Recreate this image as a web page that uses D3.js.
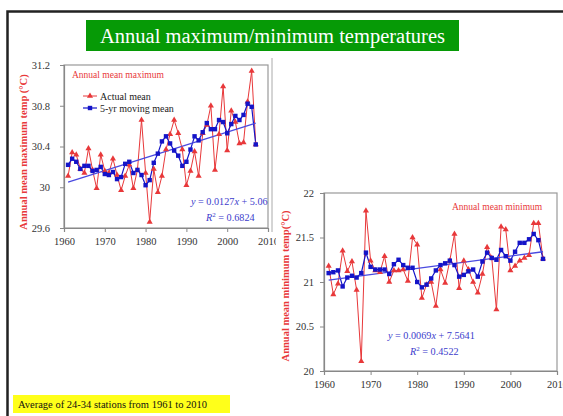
<!DOCTYPE html>
<html>
<head>
<meta charset="utf-8">
<script src="https://cdn.jsdelivr.net/npm/d3@7"></script>
<style>
  body { margin: 0; background: #fff; }
  svg text { font-family: "Liberation Serif", "DejaVu Serif", serif; }
</style>
</head>
<body>
<svg id="chart" width="563" height="416"></svg>
<script>
// years 1961-2007
var years = d3.range(1961, 2008);

// annual mean maximum (red) and 5-yr moving mean (blue)
var maxActual = [30.11, 30.34, 30.32, 30.18, 30.14, 30.38, 30.17, 29.99, 30.32, 30.16,
                 30.14, 30.28, 30.12, 29.97, 30.11, 30.22, 29.99, 30.17, 30.66, 30.14,
                 29.66, 30.18, 29.95, 30.11, 30.37, 30.52, 30.66, 30.53, 30.37, 30.02,
                 30.16, 30.35, 30.11, 30.53, 30.61, 30.80, 30.17, 30.52, 30.99, 30.36,
                 30.75, 30.64, 30.43, 30.44, 30.84, 31.14, 30.42];
var maxMoving = [30.22, 30.28, 30.25, 30.18, 30.21, 30.21, 30.16, 30.17, 30.20, 30.13,
                 30.12, 30.15, 30.08, 30.10, 30.23, 30.25, 30.14, 30.17, 30.12, 30.02,
                 30.07, 30.24, 30.33, 30.45, 30.50, 30.43, 30.36, 30.31, 30.21, 30.25,
                 30.37, 30.50, 30.46, 30.54, 30.63, 30.57, 30.57, 30.66, 30.64, 30.53,
                 30.62, 30.70, 30.66, 30.71, 30.82, 30.79, 30.42];
var maxTrend = [[1961, 30.05], [2007, 30.63]];

// annual mean minimum (red) and 5-yr moving mean (blue)
var minActual = [21.18, 20.86, 20.98, 21.35, 21.12, 21.23, 20.91, 20.11, 21.80, 21.24,
                 21.13, 21.11, 21.29, 21.00, 21.13, 21.13, 21.14, 21.01, 21.50, 21.42,
                 20.82, 20.97, 21.00, 20.73, 21.14, 20.99, 21.24, 21.54, 20.93, 21.24,
                 21.14, 21.00, 20.88, 21.09, 21.39, 21.27, 20.69, 21.62, 21.59, 21.13,
                 21.18, 21.24, 21.27, 21.30, 21.66, 21.66, 21.26];
var minMoving = [21.10, 21.11, 21.13, 20.95, 21.05, 21.07, 21.05, 21.10, 21.33, 21.17,
                 21.14, 21.14, 21.14, 21.09, 21.20, 21.25, 21.19, 21.16, 21.16, 21.00,
                 20.94, 20.97, 21.04, 21.13, 21.19, 21.21, 21.24, 21.19, 21.06, 21.08,
                 21.12, 21.14, 21.06, 21.23, 21.33, 21.27, 21.25, 21.36, 21.29, 21.24,
                 21.34, 21.44, 21.44, 21.48, 21.54, 21.47, 21.26];
var minTrend = [[1961, 21.02], [2007, 21.34]];

var xTicks = [1960, 1970, 1980, 1990, 2000, 2010];
var maxTicks = [29.6, 30, 30.4, 30.8, 31.2];
var minTicks = [20, 20.5, 21, 21.5, 22];

var RED = "#e8383a", BLUE = "#1414c8", TREND = "#4a4ae0";

var svg = d3.select("#chart");

// slide frame
svg.append("rect").attr("x", 7.5).attr("y", 11.5).attr("width", 620).attr("height", 480)
  .attr("fill", "#fff").attr("stroke", "#222").attr("stroke-width", 2.5);

// title banner
svg.append("rect").attr("x", 86).attr("y", 20).attr("width", 373).attr("height", 31)
  .attr("fill", "#069a06");
svg.append("text").attr("x", 272.5).attr("y", 42.5).attr("text-anchor", "middle")
  .attr("fill", "#fff").attr("font-size", 20.5).text("Annual maximum/minimum temperatures");

function drawChart(o) {
  var g = svg.append("g");
  if (o.bg) {
    g.append("rect").attr("x", o.bg[0]).attr("y", o.bg[1]).attr("width", o.bg[2]).attr("height", o.bg[3])
      .attr("fill", "#fff");
  }
  var x = d3.scaleLinear().domain([1960, 2010]).range(o.xr);
  var y = d3.scaleLinear().domain(o.yd).range(o.yr);

  // plot border (top/right)
  g.append("rect").attr("x", o.xr[0]).attr("y", o.yr[1]).attr("width", o.xr[1] - o.xr[0])
    .attr("height", o.yr[0] - o.yr[1]).attr("fill", "none").attr("stroke", "#999").attr("stroke-width", 1.2);

  var ax = g.append("g").attr("transform", "translate(0," + o.yr[0] + ")")
    .call(d3.axisBottom(x).tickValues(xTicks).tickFormat(d3.format("d")).tickSize(4).tickPadding(6));
  var ay = g.append("g").attr("transform", "translate(" + o.xr[0] + ",0)")
    .call(d3.axisLeft(y).tickValues(o.ticks).tickFormat(function (d) { return String(d); })
      .tickSize(4).tickPadding(o.pad));
  [ax, ay].forEach(function (a) {
    a.select(".domain").attr("stroke", "#888").attr("stroke-width", 1.2);
    a.selectAll(".tick line").attr("stroke", "#888");
    a.selectAll(".tick text").attr("fill", "#333").attr("font-size", 10.5)
      .style("font-family", "Liberation Serif, serif");
  });

  var line = d3.line().x(function (d) { return x(d[0]); }).y(function (d) { return y(d[1]); });
  var act = years.map(function (yr, i) { return [yr, o.actual[i]]; });
  var mov = years.map(function (yr, i) { return [yr, o.moving[i]]; });

  g.append("path").datum(act).attr("d", line).attr("fill", "none").attr("stroke", RED).attr("stroke-width", 1);
  g.append("path").datum(mov).attr("d", line).attr("fill", "none").attr("stroke", BLUE).attr("stroke-width", 1.2);
  g.append("path").datum(o.trend).attr("d", line).attr("fill", "none").attr("stroke", TREND).attr("stroke-width", 1.3);

  var tri = d3.symbol().type(d3.symbolTriangle).size(16);
  g.selectAll(".tri").data(act).enter().append("path")
    .attr("transform", function (d) { return "translate(" + x(d[0]) + "," + y(d[1]) + ")"; })
    .attr("d", tri).attr("fill", RED);
  g.selectAll(".sq").data(mov).enter().append("rect")
    .attr("x", function (d) { return x(d[0]) - 2.2; }).attr("y", function (d) { return y(d[1]) - 2.2; })
    .attr("width", 4.4).attr("height", 4.4).attr("fill", BLUE);

  // axis title
  g.append("text").attr("transform", "translate(" + o.titlePos[0] + "," + o.titlePos[1] + ") rotate(-90)")
    .attr("text-anchor", "middle").attr("fill", RED).attr("font-weight", "bold").attr("font-size", 10.5)
    .text(o.yTitle);

  // label
  g.append("text").attr("x", o.label[0]).attr("y", o.label[1]).attr("fill", RED).attr("font-size", 9.5)
    .text(o.label[2]);

  // equation
  var eq = g.append("text").attr("x", o.eq[0]).attr("y", o.eq[1]).attr("fill", "#3b3bcc").attr("font-size", 10.2);
  eq.append("tspan").attr("font-style", "italic").text("y");
  eq.append("tspan").text(" = " + o.eq[2]);
  eq.append("tspan").attr("font-style", "italic").text("x");
  eq.append("tspan").text(" + " + o.eq[3]);
  var r2 = g.append("text").attr("x", o.r2[0]).attr("y", o.r2[1]).attr("fill", "#3b3bcc").attr("font-size", 10.2);
  r2.append("tspan").attr("font-style", "italic").text("R");
  r2.append("tspan").attr("dy", -4).attr("font-size", 7).text("2");
  r2.append("tspan").attr("dy", 4).text(" = " + o.r2[2]);
  return g;
}

var c1 = drawChart({
  xr: [64, 268], yd: [29.6, 31.2], yr: [228, 65], ticks: maxTicks, pad: 10,
  actual: maxActual, moving: maxMoving, trend: maxTrend,
  titlePos: [27, 152], yTitle: "Annual mean maximum temp (\u00B0C)",
  label: [72, 78, "Annual mean maximum"],
  eq: [191, 205, "0.0127", "5.06"], r2: [206, 221, "0.6824"]
});

// legend for first chart
var legend = c1.append("g");
legend.append("line").attr("x1", 83).attr("x2", 97).attr("y1", 96).attr("y2", 96).attr("stroke", RED);
legend.append("path").attr("transform", "translate(90,96)").attr("d", d3.symbol().type(d3.symbolTriangle).size(16)).attr("fill", RED);
legend.append("text").attr("x", 100).attr("y", 99.5).attr("font-size", 10).attr("fill", "#222").text("Actual mean");
legend.append("line").attr("x1", 83).attr("x2", 97).attr("y1", 108).attr("y2", 108).attr("stroke", BLUE).attr("stroke-width", 1.2);
legend.append("rect").attr("x", 87.8).attr("y", 105.8).attr("width", 4.4).attr("height", 4.4).attr("fill", BLUE);
legend.append("text").attr("x", 100).attr("y", 111.5).attr("font-size", 10).attr("fill", "#222").text("5-yr moving mean");

// chart 1 area edge
svg.append("line").attr("x1", 272).attr("x2", 272).attr("y1", 58).attr("y2", 232)
  .attr("stroke", "#aaa").attr("stroke-width", 1);

drawChart({
  bg: [276, 182, 290, 214],
  xr: [324, 557], yd: [20, 22], yr: [371, 193], ticks: minTicks, pad: 6,
  actual: minActual, moving: minMoving, trend: minTrend,
  titlePos: [289, 286], yTitle: "Annual mean minimum temp(\u00B0C)",
  label: [452, 210, "Annual mean minimum"],
  eq: [388, 339, "0.0069", "7.5641"], r2: [410, 355, "0.4522"]
});

// footnote
svg.append("rect").attr("x", 13).attr("y", 395).attr("width", 217).attr("height", 18).attr("fill", "#ffff1a");
svg.append("text").attr("x", 18).attr("y", 408).attr("font-size", 10.5).attr("fill", "#111")
  .text("Average of 24-34 stations from 1961 to 2010");
</script>
</body>
</html>
